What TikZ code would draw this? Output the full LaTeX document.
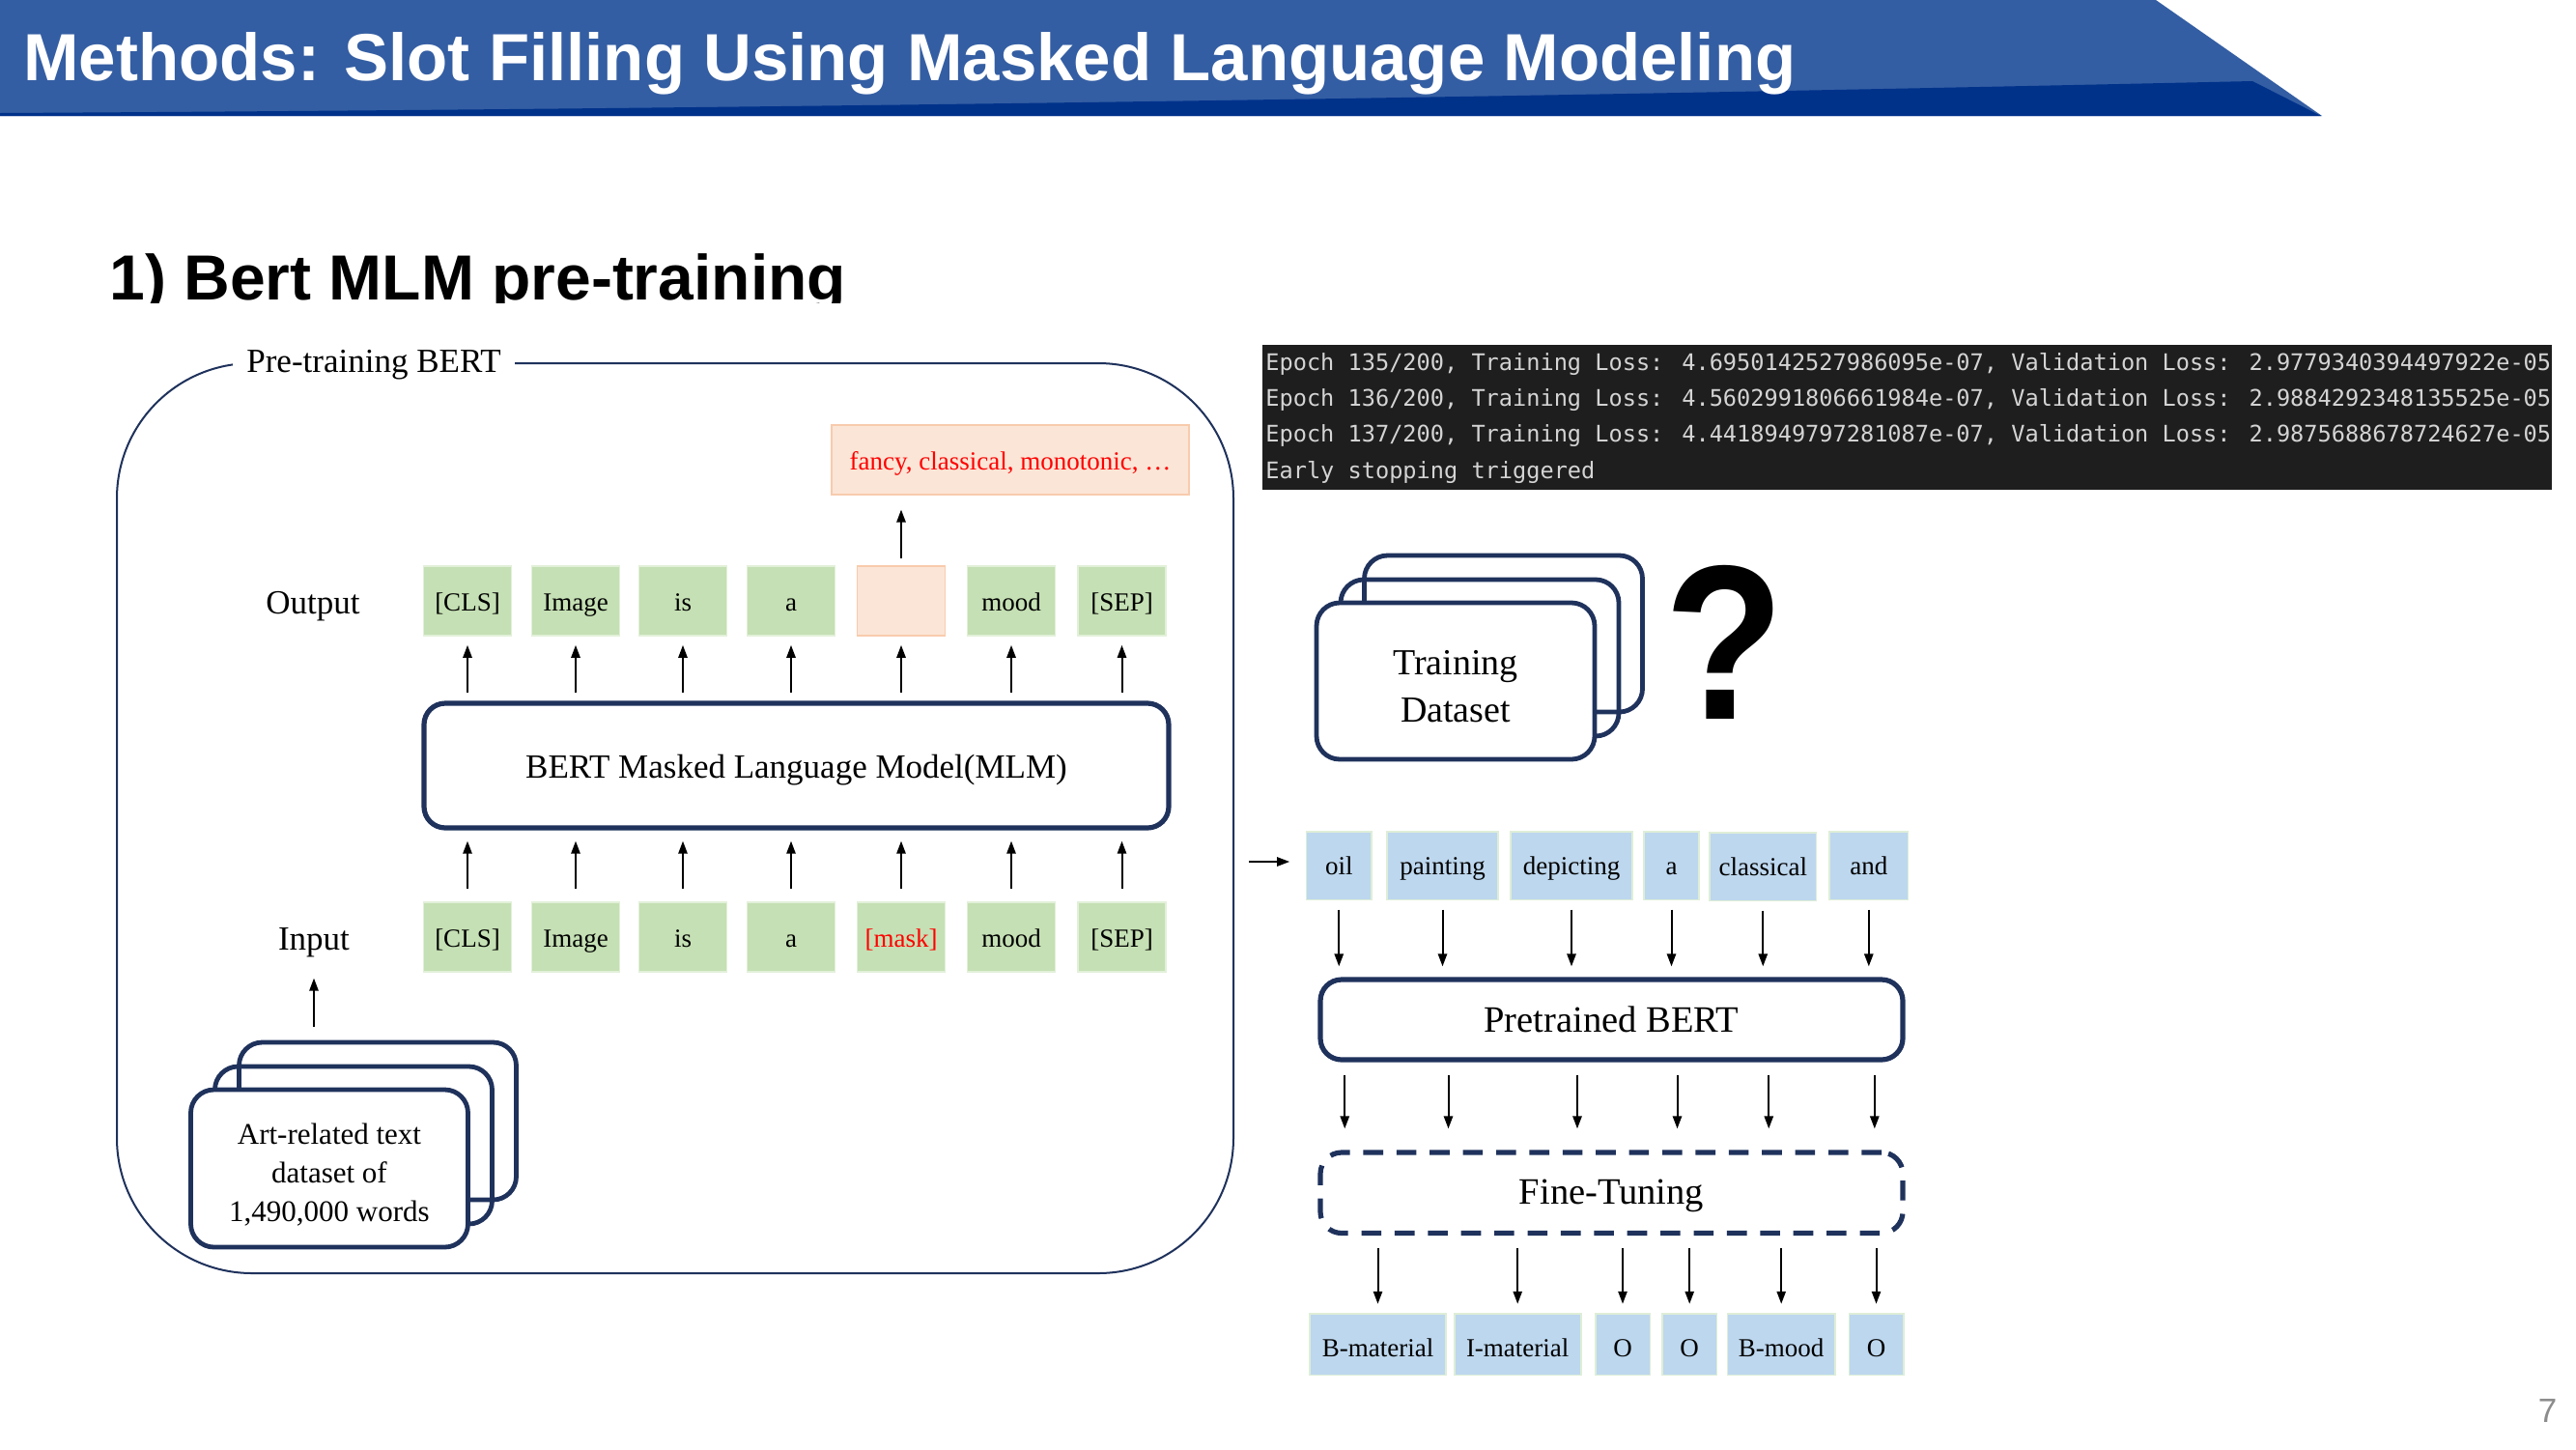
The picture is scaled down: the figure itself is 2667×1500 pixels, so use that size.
\documentclass[tikz,border=0pt]{standalone}
\usepackage{fontspec}
\setmainfont{Liberation Serif}
\newfontfamily\headsans{Liberation Sans}
\newfontfamily\termmono{DejaVu Sans Mono}
\usetikzlibrary{arrows.meta,calc}

\definecolor{barlight}{RGB}{52,94,163}
\definecolor{bardark}{RGB}{0,50,138}
\definecolor{navy}{RGB}{31,50,92}
\definecolor{tokgreen}{RGB}{197,224,180}
\definecolor{tokgreenedge}{RGB}{226,240,217}
\definecolor{tokpink}{RGB}{251,229,214}
\definecolor{tokpinkedge}{RGB}{248,203,173}
\definecolor{tokblue}{RGB}{189,215,238}
\definecolor{tokblueedge}{RGB}{222,238,215}
\definecolor{termbg}{RGB}{30,30,30}
\definecolor{termfg}{RGB}{212,212,212}
\definecolor{maskred}{RGB}{255,0,0}
\definecolor{pagegray}{RGB}{140,140,140}

\tikzset{
  arr/.style={line width=1pt, -{Triangle[length=6.5pt,width=4.6pt]}},
  tokbase/.style={rectangle, inner sep=0pt, line width=0.8pt, text height=10pt, text depth=0pt,
    font=\fontsize{13.5pt}{16pt}\selectfont},
  gtok/.style={tokbase, fill=tokgreen, draw=tokgreenedge, minimum width=45.5pt, minimum height=36pt},
  ptok/.style={tokbase, fill=tokpink, draw=tokpinkedge, minimum width=45.5pt, minimum height=36pt},
  btok/.style={tokbase, fill=tokblue, draw=tokblueedge, minimum height=35.3pt, text height=9pt},
  ltok/.style={tokbase, fill=tokblue, draw=tokblueedge, minimum height=31.65pt, text height=13pt},
  model/.style={rectangle, draw=navy, line width=2.6pt, rounded corners=11pt, inner sep=0pt,
    text height=13pt, text depth=0pt},
  stackcard/.style={rectangle, draw=navy, line width=2.4pt, rounded corners=12pt, inner sep=0pt,
    minimum width=143.5pt, minimum height=81.5pt},
  rowlabel/.style={inner sep=0pt, font=\fontsize{17.5pt}{21pt}\selectfont},
  termline/.style={inner sep=0pt, anchor=base west, text=termfg, font=\termmono\fontsize{11.8pt}{14pt}\selectfont},
}

\begin{document}
\begin{tikzpicture}[x=0.5pt, y=-0.5pt]
\useasboundingbox (0,0) rectangle (2667,1500);
\fill[white] (0,0) rectangle (2667,1500);

% ---------- title banner ----------
\fill[barlight] (0,0) -- (2232,0) -- (2404,120) -- (0,120) -- cycle;
\fill[bardark] (0,117) .. controls (900,112) and (1700,98) .. (2332,84) -- (2403,120) -- (0,120) -- cycle;
\node[anchor=base west, inner sep=0pt, text=white,
      font=\headsans\bfseries\fontsize{34.5pt}{40pt}\selectfont] (title) at (24,83)
      {Methods: Slot Filling Using Masked Language Modeling};

% ---------- section heading ----------
\begin{scope}
  \clip (0,200) rectangle (1000,313);
  \node[anchor=base west, inner sep=0pt, font=\headsans\bfseries\fontsize{33pt}{38pt}\selectfont]
    (heading) at (113,310) {1) Bert MLM pre-training};
\end{scope}

% ---------- pre-training panel ----------
\draw[navy, line width=1pt, rounded corners=70pt] (121,376) rectangle (1277,1318);
\node[fill=white, inner xsep=7pt, inner ysep=3pt, font=\fontsize{17.5pt}{21pt}\selectfont]
  (ptlabel) at (387,378) {Pre-training BERT};

\node[rowlabel] (outLbl) at (324,628) {Output};
\node[rowlabel] (inLbl) at (325,976) {Input};

% output tokens
\node[gtok] (oCLS)  at (484,622)  {[CLS]};
\node[gtok] (oImg)  at (596,622)  {Image};
\node[gtok] (oIs)   at (707,622)  {is};
\node[gtok] (oA)    at (819,622)  {a};
\node[ptok] (oMask) at (933,622)  {};
\node[gtok] (oMood) at (1047,622) {mood};
\node[gtok] (oSep)  at (1161.5,622) {[SEP]};

\node[ptok, minimum width=184.75pt, minimum height=35.75pt, text=maskred] (fancy) at (1046,476)
  {fancy, classical, monotonic, …};

% input tokens
\node[gtok] (iCLS)  at (484,970)  {[CLS]};
\node[gtok] (iImg)  at (596,970)  {Image};
\node[gtok] (iIs)   at (707,970)  {is};
\node[gtok] (iA)    at (819,970)  {a};
\node[gtok, text=maskred] (iMask) at (933,970) {[mask]};
\node[gtok] (iMood) at (1047,970) {mood};
\node[gtok] (iSep)  at (1161.5,970) {[SEP]};

\node[model, minimum width=385.5pt, minimum height=64.5pt, font=\fontsize{17.5pt}{21pt}\selectfont]
  (mlm) at (824.5,792.5) {BERT Masked Language Model(MLM)};

\foreach \n in {CLS,Img,Is,A,Mask,Mood,Sep}{
  \draw[arr, shorten <=4pt, shorten >=4.5pt] (mlm.north -| o\n.south) -- (o\n.south);
  \draw[arr, shorten <=6.5pt, shorten >=5.5pt] (i\n.north) -- (i\n.north |- mlm.south);
}
\draw[arr, shorten <=3.5pt, shorten >=7.5pt] (oMask.north) -- (oMask.north |- fancy.south);

% corpus stack
\node[stackcard] (dsBack) at (391,1160.5) {};
\node[stackcard] (dsMid)  at (366,1185.5) {};
\node[stackcard, fill=white, font=\fontsize{15.5pt}{20pt}\selectfont]
  (dsFront) at (341,1209.5) {\raisebox{-3.5pt}[\height][\depth]{\begin{tabular}{@{}c@{}}Art-related text\\dataset of\\1,490,000 words\end{tabular}}};
\draw[arr, shorten <=7pt, shorten >=10.5pt] (dsBack.north -| inLbl.south) -- (inLbl.south);

% ---------- training log ----------
\node[fill=termbg, anchor=north west, inner sep=0pt, minimum width=667.5pt, minimum height=75pt]
  (term) at (1307,357) {};
\node[termline] (log1) at (1310,383) {Epoch 135/200, Training Loss: 4.6950142527986095e-07, Validation Loss: 2.9779340394497922e-05};
\node[termline] (log2) at (1310,420.5) {Epoch 136/200, Training Loss: 4.5602991806661984e-07, Validation Loss: 2.9884292348135525e-05};
\node[termline] (log3) at (1310,457.5) {Epoch 137/200, Training Loss: 4.4418949797281087e-07, Validation Loss: 2.9875688678724627e-05};
\node[termline] (log4) at (1310,495) {Early stopping triggered};

% ---------- training dataset stack ----------
\node[stackcard, minimum width=144pt, minimum height=81pt] (tdBack) at (1556.5,656) {};
\node[stackcard, minimum width=144pt, minimum height=81pt] (tdMid)  at (1532,681) {};
\node[stackcard, minimum width=144pt, minimum height=81pt, fill=white,
      font=\fontsize{19pt}{24.5pt}\selectfont] (tdFront) at (1507,705)
      {\raisebox{-4.25pt}[\height][\depth]{\begin{tabular}{@{}c@{}}Training\\Dataset\end{tabular}}};
\node[inner sep=0pt, font=\headsans\bfseries\fontsize{114pt}{114pt}\selectfont] (qmark) at (1785,665) {\scalebox{0.89}[1]{?}};

% ---------- fine-tuning flow ----------
\node[btok, minimum width=33.75pt] (rOil)   at (1386.25,896) {oil};
\node[btok, minimum width=57.5pt]  (rPaint) at (1493.5,896)  {painting};
\node[btok, minimum width=63pt]    (rDep)   at (1627,896)    {depicting};
\node[btok, minimum width=28.5pt]  (rA)     at (1730.5,896)  {a};
\node[btok, minimum width=55.25pt] (rClass) at (1825.25,897) {classical};
\node[btok, minimum width=40.8pt]  (rAnd)   at (1934.8,896)  {and};

\coordinate (feed) at (1293,892);
\draw[arr, shorten >=8.25pt] (feed) -- (feed -| rOil.west);

\node[model, minimum width=301.5pt, minimum height=41.5pt, font=\fontsize{19.25pt}{23pt}\selectfont]
  (pre) at (1668.5,1055.5) {Pretrained BERT};
\node[model, dash pattern=on 10.3pt off 6.9pt, minimum width=301.5pt, minimum height=41.75pt,
      text height=11.5pt, font=\fontsize{19.25pt}{23pt}\selectfont] (fine) at (1668.5,1234.75) {Fine-Tuning};

\foreach \n in {rOil,rPaint,rDep,rA,rClass,rAnd}{
  \draw[arr, shorten <=4.75pt, shorten >=5.5pt] (\n.south) -- (\n.south |- pre.north);
  \draw[arr, shorten <=6.5pt, shorten >=11pt] ($(\n.south |- pre.south)+(3pt,0)$) -- ($(\n.south |- fine.north)+(3pt,0)$);
}

\node[ltok, minimum width=70.5pt] (lBmat)  at (1426.5,1391.7) {B-material};
\node[ltok, minimum width=65.5pt] (lImat)  at (1571.2,1391.7) {I-material};
\node[ltok, minimum width=28.3pt] (lOa)    at (1680,1391.7)   {O};
\node[ltok, minimum width=28.2pt] (lOb)    at (1749.2,1391.7) {O};
\node[ltok, minimum width=55.8pt] (lBmood) at (1844.2,1391.7) {B-mood};
\node[ltok, minimum width=28.2pt] (lOc)    at (1942.5,1391.7) {O};

\foreach \n in {lBmat,lImat,lOa,lOb,lBmood,lOc}{
  \draw[arr, shorten <=6.5pt, shorten >=4.75pt] (\n.north |- fine.south) -- (\n.north);
}

% page number
\node[inner sep=0pt, text=pagegray, font=\headsans\fontsize{17.5pt}{20pt}\selectfont] (pageno) at (2637.5,1460.5) {7};
\end{tikzpicture}
\end{document}
